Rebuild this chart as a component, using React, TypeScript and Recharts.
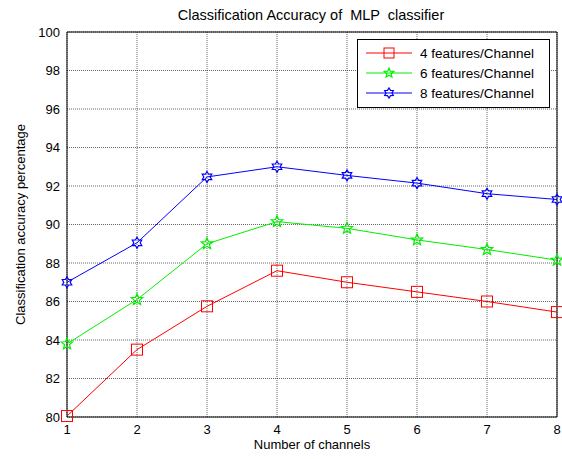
import { LineChart, Line, XAxis, YAxis, CartesianGrid, ReferenceArea } from "recharts";

const channels = [1, 2, 3, 4, 5, 6, 7, 8];
const feat4 = [80.05, 83.5, 85.75, 87.6, 87.0, 86.5, 86.0, 85.45];
const feat6 = [83.8, 86.1, 89.0, 90.15, 89.8, 89.2, 88.7, 88.15];
const feat8 = [87.0, 89.05, 92.47, 93.0, 92.55, 92.15, 91.6, 91.3];
const yTicks = [80, 82, 84, 86, 88, 90, 92, 94, 96, 98, 100];
const seriesNames = ["4 features/Channel", "6 features/Channel", "8 features/Channel"];

const data = channels.map((c, i) => ({ ch: c, f4: feat4[i], f6: feat6[i], f8: feat8[i] }));

const FONT = "'Liberation Sans', Arial, sans-serif";

function starPath(cx: number, cy: number, points: number, outer: number, inner: number) {
  let d = "";
  for (let i = 0; i < points * 2; i++) {
    const r = i % 2 === 0 ? outer : inner;
    const a = -Math.PI / 2 + (i * Math.PI) / points;
    d += (i === 0 ? "M" : "L") + (cx + r * Math.cos(a)).toFixed(2) + "," + (cy + r * Math.sin(a)).toFixed(2);
  }
  return d + "Z";
}

const Square = (props: any) => {
  const { cx, cy, key } = props;
  return <rect key={key} x={cx - 5.5} y={cy - 5.5} width={11} height={11} fill="none" stroke="#ff0000" strokeWidth={1} />;
};
const Penta = (props: any) => {
  const { cx, cy, key } = props;
  return <path key={key} d={starPath(cx, cy, 5, 6, 2.6)} fill="none" stroke="#00ee00" strokeWidth={1.2} />;
};
const Hexa = (props: any) => {
  const { cx, cy, key } = props;
  return <path key={key} d={starPath(cx, cy, 6, 5.5, 3.2)} fill="none" stroke="#0000ff" strokeWidth={1.2} />;
};

const LegendBox = () => {
  const items = [
    { name: seriesNames[0], color: "#ff0000", m: (x: number, y: number) => <rect x={x - 5} y={y - 5} width={10} height={10} fill="none" stroke="#ff0000" /> },
    { name: seriesNames[1], color: "#00ee00", m: (x: number, y: number) => <path d={starPath(x, y, 5, 5, 2.2)} fill="none" stroke="#00ee00" strokeWidth={1.2} /> },
    { name: seriesNames[2], color: "#0000ff", m: (x: number, y: number) => <path d={starPath(x, y, 6, 5, 3)} fill="none" stroke="#0000ff" strokeWidth={1.2} /> },
  ];
  return (
    <svg width={193} height={69} style={{ display: "block" }}>
      <rect x={0.5} y={0.5} width={192} height={68} fill="#fff" stroke="#000" />
      {items.map((it, i) => {
        const y = 14 + i * 20;
        return (
          <g key={it.name}>
            <line x1={9} x2={55} y1={y} y2={y} stroke={it.color} />
            {it.m(32, y)}
            <text x={63} y={y + 5} fontSize={13.5} fontFamily={FONT} fill="#000">{it.name}</text>
          </g>
        );
      })}
    </svg>
  );
};

export default function App() {
  return (
    <div style={{ position: "absolute", left: 0, top: 0, width: 562, height: 459, background: "#fff" }}>
      <LineChart width={562} height={459} data={data} margin={{ top: 32, right: 5, bottom: 0, left: 0 }}>
        <text x={311} y={20} textAnchor="middle" fontSize={14.5} fontFamily={FONT} fill="#000" style={{ whiteSpace: "pre" }}>
          {"Classification Accuracy of  MLP  classifier"}
        </text>
        <CartesianGrid stroke="#000" strokeDasharray="1 1" strokeOpacity={0.6} />
        <XAxis
          dataKey="ch"
          type="number"
          domain={[1, 8]}
          ticks={channels}
          height={42}
          tickLine={false}
          axisLine={false}
          tickMargin={2}
          tick={{ fontSize: 13, fill: "#000", fontFamily: FONT }}
          label={{ value: "Number of channels", position: "insideBottom", offset: 10, fontSize: 13, fill: "#000", fontFamily: FONT }}
        />
        <YAxis
          type="number"
          domain={[80, 100]}
          ticks={yTicks}
          width={67}
          tickLine={false}
          axisLine={false}
          tickMargin={1}
          interval={0}
          tick={{ fontSize: 13, fill: "#000", fontFamily: FONT }}
          label={{ value: "Classification accuracy percentage", angle: -90, position: "insideLeft", offset: 20, style: { textAnchor: "middle" }, fontSize: 13, fill: "#000", fontFamily: FONT }}
        />
        <ReferenceArea x1={1} x2={8} y1={80} y2={100} fill="none" stroke="#000" strokeWidth={1} ifOverflow="visible" />
        <Line dataKey="f4" name={seriesNames[0]} stroke="#ff0000" strokeWidth={1} dot={Square} isAnimationActive={false} />
        <Line dataKey="f6" name={seriesNames[1]} stroke="#00ee00" strokeWidth={1} dot={Penta} isAnimationActive={false} />
        <Line dataKey="f8" name={seriesNames[2]} stroke="#0000ff" strokeWidth={1} dot={Hexa} isAnimationActive={false} />
      </LineChart>
      <div style={{ position: "absolute", left: 357, top: 39 }}>
        <LegendBox />
      </div>
    </div>
  );
}
